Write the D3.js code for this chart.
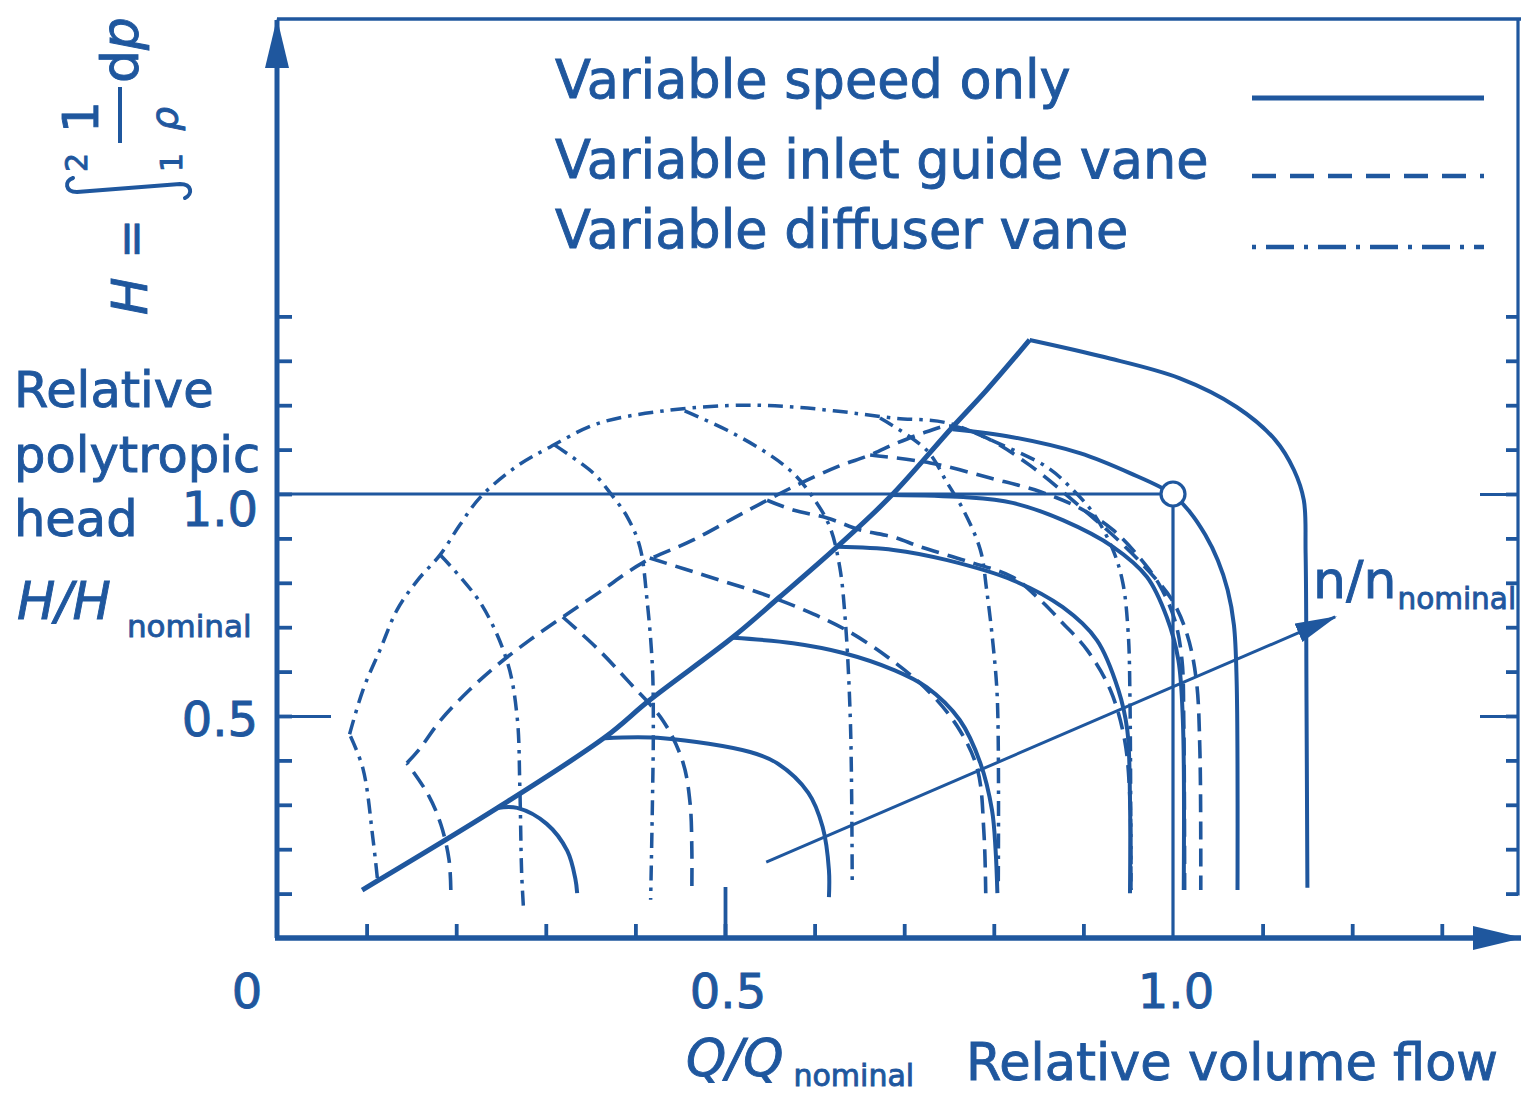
<!DOCTYPE html>
<html>
<head>
<meta charset="utf-8">
<script src="https://cdn.jsdelivr.net/npm/d3@7"></script>
<style>
  html, body { margin: 0; padding: 0; background: #fff; }
  svg { display: block; }
  text { font-family: "DejaVu Sans", sans-serif; fill: #1f579e; stroke: #1f579e; stroke-width: 0.9px; }
</style>
</head>
<body>
<div id="chartContainer"></div>
<script>

const surgeLine = [[0.095,0.108],[0.246,0.293],[0.366,0.452],[0.416,0.536],[0.509,0.678],[0.561,0.768],
  [0.625,0.881],[0.684,0.993],[0.754,1.151],[0.792,1.234],[0.840,1.347]];

// variable speed only (solid)
const speedLines = [
  [[0.246,0.293],[0.268,0.293],[0.301,0.257],[0.324,0.196],[0.333,0.133],[0.335,0.101]],
  [[0.366,0.450],[0.431,0.450],[0.528,0.419],[0.558,0.394],[0.593,0.327],[0.609,0.250],[0.616,0.153],[0.616,0.092]],
  [[0.509,0.676],[0.576,0.664],[0.632,0.642],[0.688,0.604],[0.725,0.565],[0.762,0.491],[0.785,0.394],[0.798,0.288],[0.802,0.198],[0.804,0.101]],
  [[0.625,0.881],[0.688,0.874],[0.748,0.851],[0.821,0.806],[0.877,0.745],[0.915,0.671],[0.939,0.559],[0.949,0.468],[0.952,0.311],[0.952,0.101]],
  [[0.685,0.998],[0.766,0.993],[0.821,0.980],[0.877,0.941],[0.933,0.881],[0.971,0.813],[0.993,0.723],[1.006,0.626],[1.011,0.491],[1.012,0.108]],
  [[0.754,1.146],[0.821,1.128],[0.896,1.092],[0.952,1.047],[0.999,1.000],[1.019,0.959],[1.036,0.908],[1.050,0.851],[1.061,0.784],[1.068,0.705],[1.071,0.581],[1.072,0.108]],
  [[0.840,1.347],[0.922,1.309],[1.007,1.261],[1.071,1.196],[1.114,1.122],[1.135,1.054],[1.146,0.986],[1.148,0.867],[1.149,0.536],[1.150,0.113]]
];

// variable inlet guide vane (dashed)
const igvLines = [
  [[0.194,0.108],[0.192,0.176],[0.183,0.255],[0.169,0.322],[0.145,0.394]],
  [[0.145,0.394],[0.160,0.428],[0.182,0.489],[0.215,0.559],[0.246,0.615],[0.282,0.671],[0.319,0.723],[0.360,0.779],
   [0.408,0.845],[0.464,0.896],[0.520,0.957],[0.576,1.016],[0.625,1.061],[0.662,1.088],[0.692,1.115],[0.725,1.140],
   [0.751,1.153],[0.790,1.128],[0.840,1.065],[0.907,0.953],[0.941,0.892],[0.974,0.824],[0.999,0.761],[1.016,0.682],
   [1.026,0.581],[1.030,0.423],[1.031,0.108]],
  [[0.319,0.723],[0.357,0.653],[0.394,0.574],[0.431,0.489],[0.453,0.396],[0.461,0.304],[0.463,0.198],[0.463,0.110]],
  [[0.416,0.856],[0.483,0.813],[0.539,0.777],[0.588,0.739],[0.635,0.694],[0.686,0.626],[0.729,0.552],[0.762,0.468],[0.782,0.378],[0.789,0.236],[0.791,0.101]],
  [[0.547,0.986],[0.576,0.964],[0.614,0.946],[0.651,0.919],[0.688,0.903],[0.718,0.881],[0.773,0.847],[0.821,0.813],[0.852,0.761],[0.877,0.709],[0.904,0.649],[0.930,0.559],[0.946,0.446],[0.952,0.311],[0.953,0.108]],
  [[0.662,1.088],[0.729,1.070],[0.796,1.036],[0.852,1.005],[0.896,0.968],[0.933,0.919],[0.963,0.856],[0.985,0.795],[1.002,0.716],[1.010,0.626],[1.012,0.491],[1.013,0.108]]
];

// variable diffuser vane (dash-dot)
const diffuserLines = [
  [[0.112,0.135],[0.107,0.225],[0.096,0.381],[0.081,0.459]],
  [[0.081,0.459],[0.096,0.559],[0.115,0.649],[0.134,0.739],[0.157,0.806],[0.182,0.863],[0.204,0.930],[0.227,0.993],
   [0.268,1.063],[0.305,1.106],[0.357,1.158],[0.431,1.187],[0.520,1.200],[0.576,1.196],[0.632,1.185],[0.688,1.171],
   [0.748,1.160],[0.804,1.115],[0.859,1.061],[0.885,1.016],[0.911,0.957],[0.933,0.874],[0.944,0.800],[0.950,0.687],
   [0.952,0.536],[0.953,0.108]],
  [[0.182,0.863],[0.227,0.755],[0.257,0.622],[0.268,0.498],[0.271,0.342],[0.273,0.149],[0.275,0.070]],
  [[0.310,1.110],[0.353,1.047],[0.372,1.002],[0.391,0.948],[0.405,0.881],[0.413,0.761],[0.419,0.610],[0.420,0.468],[0.419,0.304],[0.417,0.086]],
  [[0.455,1.187],[0.502,1.144],[0.547,1.092],[0.576,1.047],[0.598,0.993],[0.617,0.926],[0.628,0.836],[0.634,0.723],[0.640,0.484],[0.642,0.115]],
  [[0.673,1.171],[0.725,1.099],[0.748,1.025],[0.766,0.964],[0.785,0.874],[0.792,0.784],[0.799,0.664],[0.804,0.536],[0.805,0.120]]
];

const designPoint = [1.0, 1.0];
const speedArrow = [[0.546,0.171],[1.181,0.723]];

const xTicks = [0.1,0.2,0.3,0.4,0.5,0.6,0.7,0.8,0.9,1.1,1.2,1.3];
const yTicks = [0.1,0.2,0.3,0.4,0.5,0.6,0.7,0.8,0.9,1.0,1.1,1.2,1.3,1.4];
const xLabelValues = [0, 0.5, 1.0];
const xLabelTexts = ["0", "0.5", "1.0"];
const yLabelValues = [1.0, 0.5];
const yLabelTexts = ["1.0", "0.5"];
const legendLabels = ["Variable speed only", "Variable inlet guide vane", "Variable diffuser vane"];

const blue = "#1f579e";
const W = 1521, H = 1094;
const frameTop = 19, frameRight = 1518;

const svg = d3.select("#chartContainer").append("svg")
  .attr("width", W).attr("height", H);

const x = d3.scaleLinear().domain([0, 1]).range([277, 1173]);
const y = d3.scaleLinear().domain([0, 1]).range([938, 494]);

const defs = svg.append("defs");
function arrowMarker(id, len, wid) {
  defs.append("marker")
    .attr("id", id)
    .attr("markerUnits", "userSpaceOnUse")
    .attr("viewBox", `0 0 ${len} ${wid}`)
    .attr("refX", len - 2).attr("refY", wid / 2)
    .attr("markerWidth", len).attr("markerHeight", wid)
    .attr("orient", "auto")
    .append("path")
    .attr("d", `M0,0L${len},${wid / 2}L0,${wid}Z`)
    .attr("fill", blue);
}
arrowMarker("arrowAxis", 50, 24);
arrowMarker("arrowSpeed", 42, 20);

const lineGen = d3.line()
  .x(d => x(d[0]))
  .y(d => y(d[1]))
  .curve(d3.curveCatmullRom.alpha(0.5));

function drawCurves(list, cls, width, dash) {
  svg.append("g").attr("class", cls)
    .selectAll("path")
    .data(list)
    .enter()
    .append("path")
    .attr("d", lineGen)
    .attr("fill", "none")
    .attr("stroke", blue)
    .attr("stroke-width", width)
    .attr("stroke-dasharray", dash)
    .attr("stroke-linejoin", "round");
}

// reference lines through the design point
svg.append("line")
  .attr("x1", x(0)).attr("y1", y(designPoint[1]))
  .attr("x2", x(designPoint[0])).attr("y2", y(designPoint[1]))
  .attr("stroke", blue).attr("stroke-width", 2.8);
svg.append("line")
  .attr("x1", x(designPoint[0])).attr("y1", y(designPoint[1]))
  .attr("x2", x(designPoint[0])).attr("y2", y(0))
  .attr("stroke", blue).attr("stroke-width", 3.2);

drawCurves(diffuserLines, "diffuser", 3.5, "15,7,3.5,7");
drawCurves(igvLines, "igv", 3.6, "18,9");
drawCurves(speedLines, "speed", 4, null);
drawCurves([surgeLine], "surge", 5, null);

// n/n nominal arrow
svg.append("line")
  .attr("x1", x(speedArrow[0][0])).attr("y1", y(speedArrow[0][1]))
  .attr("x2", x(speedArrow[1][0])).attr("y2", y(speedArrow[1][1]))
  .attr("stroke", blue).attr("stroke-width", 3)
  .attr("marker-end", "url(#arrowSpeed)");

// design point
svg.append("circle")
  .attr("cx", x(designPoint[0])).attr("cy", y(designPoint[1]))
  .attr("r", 12)
  .attr("fill", "#fff").attr("stroke", blue).attr("stroke-width", 3.2);

// ticks
function styleTicks(g, w) {
  g.select(".domain").remove();
  g.selectAll(".tick line").attr("stroke", blue).attr("stroke-width", w);
}
svg.append("g").attr("transform", `translate(0,${y(0)})`)
  .call(d3.axisBottom(x).tickValues(xTicks).tickSize(-14).tickFormat(""))
  .call(g => styleTicks(g, 3.8));
svg.append("g").attr("transform", `translate(0,${y(0)})`)
  .call(d3.axisBottom(x).tickValues([0.5]).tickSize(-51).tickFormat(""))
  .call(g => styleTicks(g, 3.8));
svg.append("g").attr("transform", `translate(${x(0)},0)`)
  .call(d3.axisLeft(y).tickValues(yTicks).tickSize(-15).tickFormat(""))
  .call(g => styleTicks(g, 3.8));
svg.append("g").attr("transform", `translate(${x(0)},0)`)
  .call(d3.axisLeft(y).tickValues([0.5]).tickSize(-54).tickFormat(""))
  .call(g => styleTicks(g, 3.2));
svg.append("g").attr("transform", `translate(${frameRight},0)`)
  .call(d3.axisRight(y).tickValues(yTicks).tickSize(-12).tickFormat(""))
  .call(g => styleTicks(g, 3.8));
svg.append("g").attr("transform", `translate(${frameRight},0)`)
  .call(d3.axisRight(y).tickValues([1.0, 0.5]).tickSize(-38).tickFormat(""))
  .call(g => styleTicks(g, 3.2));

// axes with arrows and frame
svg.append("line")
  .attr("x1", x(0)).attr("y1", y(0)).attr("x2", x(0)).attr("y2", frameTop + 1)
  .attr("stroke", blue).attr("stroke-width", 5)
  .attr("marker-end", "url(#arrowAxis)");
svg.append("line")
  .attr("x1", x(0) - 2).attr("y1", y(0)).attr("x2", W).attr("y2", y(0))
  .attr("stroke", blue).attr("stroke-width", 5.5)
  .attr("marker-end", "url(#arrowAxis)");
svg.append("line")
  .attr("x1", x(0)).attr("y1", frameTop).attr("x2", W).attr("y2", frameTop)
  .attr("stroke", blue).attr("stroke-width", 3.5);
svg.append("line")
  .attr("x1", frameRight).attr("y1", frameTop).attr("x2", frameRight).attr("y2", y(0.1) + 2)
  .attr("stroke", blue).attr("stroke-width", 3.2);

// tick labels
svg.selectAll(".xlabel")
  .data(xLabelValues)
  .enter()
  .append("text")
  .attr("class", "xlabel")
  .attr("x", (d, i) => i === 0 ? x(d) - 30 : x(d) + 3)
  .attr("y", 1008)
  .attr("text-anchor", "middle")
  .attr("font-size", "48px")
  .text((d, i) => xLabelTexts[i]);

svg.selectAll(".ylabel")
  .data(yLabelValues)
  .enter()
  .append("text")
  .attr("class", "ylabel")
  .attr("x", x(0) - 19)
  .attr("y", d => d === 1.0 ? y(d) + 32 : y(d) + 20)
  .attr("text-anchor", "end")
  .attr("font-size", "48px")
  .text((d, i) => yLabelTexts[i]);

// left axis title
const leftTitle = ["Relative", "polytropic", "head"];
svg.selectAll(".ltitle")
  .data(leftTitle)
  .enter()
  .append("text")
  .attr("class", "ltitle")
  .attr("x", 14)
  .attr("y", (d, i) => 407 + i * 64.5)
  .attr("font-size", "49.5px")
  .text(d => d);

const hNom = svg.append("text").attr("x", 17).attr("y", 619).attr("font-size", "51px");
hNom.append("tspan").attr("font-style", "italic").text("H/H");
hNom.append("tspan").attr("dx", 16).attr("dy", 18).attr("font-size", "31px").text("nominal");

// x axis title
const qNom = svg.append("text").attr("x", 686).attr("y", 1076).attr("font-size", "51px");
qNom.append("tspan").attr("font-style", "italic").text("Q/Q");
qNom.append("tspan").attr("dx", 10).attr("dy", 10).attr("font-size", "30px").text("nominal");
svg.append("text").attr("x", 966).attr("y", 1080).attr("font-size", "51px").text("Relative volume flow");

// n/n nominal label
const nNom = svg.append("text").attr("x", 1313).attr("y", 598).attr("font-size", "52px");
nNom.append("tspan").text("n/n");
nNom.append("tspan").attr("dx", 1).attr("dy", 11).attr("font-size", "29.5px").text("nominal");

// head definition, rotated
const formula = svg.append("g").attr("transform", "translate(147,315) rotate(-90)");
formula.append("text").attr("x", 0).attr("y", 0).attr("font-size", "50px").attr("font-style", "italic").text("H");
formula.append("text").attr("x", 56).attr("y", 0).attr("font-size", "48px").text("=");
formula.append("path")
  .attr("d", "M137,-74 C134,-83 123,-82 123,-70 L131,33 C131,45 121,46 117,38")
  .attr("fill", "none").attr("stroke", blue).attr("stroke-width", 4).attr("stroke-linecap", "round");
formula.append("text").attr("x", 143).attr("y", -60).attr("font-size", "30px").text("2");
formula.append("text").attr("x", 143).attr("y", 35).attr("font-size", "30px").text("1");
formula.append("text").attr("x", 198).attr("y", -49).attr("text-anchor", "middle").attr("font-size", "50px").text("1");
formula.append("line").attr("x1", 172).attr("y1", -27).attr("x2", 228).attr("y2", -27)
  .attr("stroke", blue).attr("stroke-width", 4);
formula.append("text").attr("x", 196).attr("y", 30).attr("text-anchor", "middle")
  .attr("font-size", "38px").attr("font-style", "italic").text("ρ");
const dp = formula.append("text").attr("x", 232).attr("y", -9).attr("font-size", "52px");
dp.append("tspan").text("d");
dp.append("tspan").attr("font-style", "italic").text("p");

// legend
const legendY = [98, 176, 247];
const legendTextY = [98, 178, 248];
const legendStyles = [
  { w: 5, dash: null },
  { w: 4.5, dash: "24,14" },
  { w: 4.5, dash: "4,10,28,10" }
];
const legend = svg.selectAll(".legend")
  .data(legendLabels)
  .enter()
  .append("g")
  .attr("class", "legend");
legend.append("text")
  .attr("x", 555)
  .attr("y", (d, i) => legendTextY[i])
  .attr("font-size", "52.5px")
  .text(d => d);
legend.append("line")
  .attr("x1", 1252).attr("x2", 1484)
  .attr("y1", (d, i) => legendY[i]).attr("y2", (d, i) => legendY[i])
  .attr("stroke", blue)
  .attr("stroke-width", (d, i) => legendStyles[i].w)
  .attr("stroke-dasharray", (d, i) => legendStyles[i].dash);
</script>
</body>
</html>
